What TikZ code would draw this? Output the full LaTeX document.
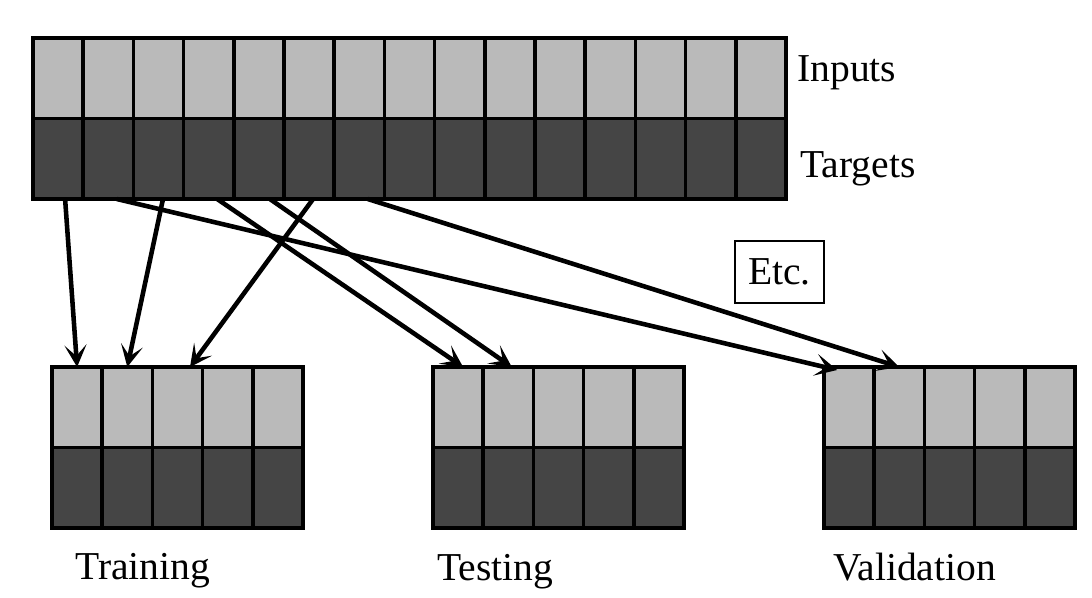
\documentclass[tikz,border=0pt]{standalone}
\usepackage{fontspec}
\setmainfont{Liberation Serif}
\usetikzlibrary{arrows.meta}

\tikzset{
  incell/.style={draw=black, line width=2pt, fill=black!27, minimum width=\cellw cm, minimum height=\cellh cm, inner sep=0pt, outer sep=0pt, anchor=north west},
  tgcell/.style={incell, fill=black!73},
  link/.style={line width=2.6pt, -{Stealth[length=4.4mm,width=4.4mm,inset=2.2mm]}},
  lbl/.style={font=\fontsize{22.5}{26}\selectfont, anchor=base west, inner sep=0pt},
}

\begin{document}
\begin{tikzpicture}

\def \cellw {1.004}
\def \cellh {1.61}

\def \topx {0.66}
\def \topy {-0.76}
\def \boty {-7.34}

\useasboundingbox (0,0) rectangle (21.84,-11.94);

% full data set
\foreach \i in {1,...,15} {
  \node [incell] (in\i) at ({\topx+(\i-1)*\cellw},\topy) {};
  \node [tgcell] (tg\i) at ({\topx+(\i-1)*\cellw},\topy-\cellh) {};
}

% the three subsets
\foreach \set/\setx in {tr/1.04, te/8.66, va/16.48} {
  \foreach \j in {1,...,5} {
    \node [incell] (\set in\j) at ({\setx+(\j-1)*\cellw},\boty) {};
    \node [tgcell] (\set tg\j) at ({\setx+(\j-1)*\cellw},\boty-\cellh) {};
  }
}

\node [lbl] (inputs) at (15.94,-1.62) {Inputs};
\node [lbl] (targets) at (16.0,-3.54) {Targets};
\node [lbl] (training) at (1.5,-11.58) {Training};
\node [lbl] (testing) at (8.74,-11.6) {Testing};
\node [lbl] (validation) at (16.66,-11.6) {Validation};

\node [draw, line width=0.8pt, minimum width=1.78cm, minimum height=1.24cm, inner sep=0pt, font=\fontsize{22.5}{26}\selectfont] (etc) at (15.59,-5.44) {Etc.};

\draw [link] ([xshift=0.14cm]tg1.south) -- (trin1.north);
\draw [link] ([xshift=0.09cm]tg3.south) -- (trin2.north);
\draw [link] ([xshift=0.08cm]tg6.south) -- ([xshift=0.25cm]trin3.north);
\draw [link] ([xshift=0.17cm]tg2.south) -- ([xshift=-0.24cm,yshift=-0.06cm]vain1.north);
\draw [link] ([xshift=0.17cm]tg4.south) -- ([xshift=0.1cm]tein1.north);
\draw [link] ([xshift=0.22cm]tg5.south) -- ([xshift=0.07cm]tein2.north);
\draw [link] ([xshift=0.17cm]tg7.south) -- (vain2.north);

\end{tikzpicture}
\end{document}
